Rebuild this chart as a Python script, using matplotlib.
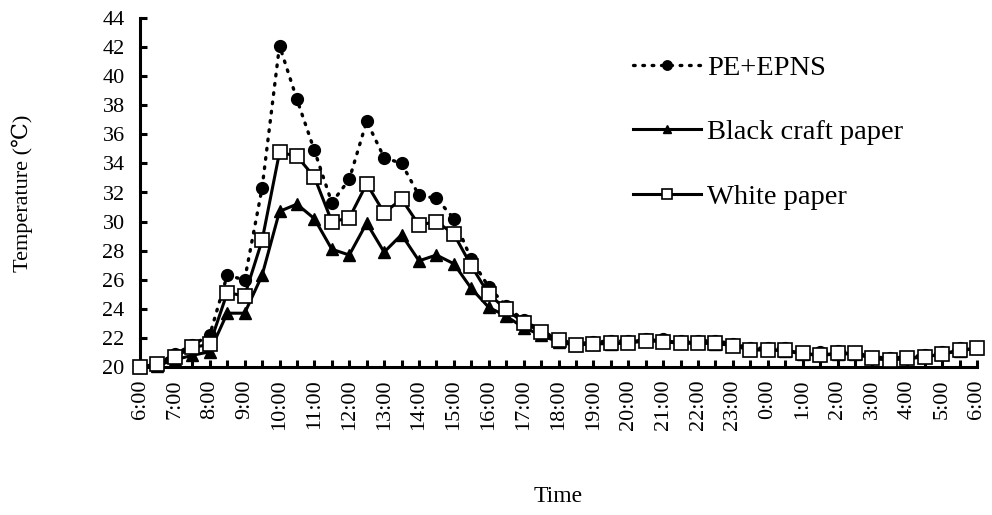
import matplotlib
matplotlib.use('Agg')
import matplotlib.pyplot as plt

plt.rcParams['font.family'] = ['Liberation Serif', 'DejaVu Serif']

# time axis: every 30 min from 6:00 to 6:00 next day
hours = ['6:00', '7:00', '8:00', '9:00', '10:00', '11:00', '12:00', '13:00',
         '14:00', '15:00', '16:00', '17:00', '18:00', '19:00', '20:00', '21:00',
         '22:00', '23:00', '0:00', '1:00', '2:00', '3:00', '4:00', '5:00', '6:00']

pe_epns = [20.0, 20.2, 20.9, 21.5, 22.2, 26.3, 26.0, 32.3, 42.1, 38.4,
           34.9, 31.3, 32.9, 36.9, 34.4, 34.0, 31.8, 31.6, 30.2, 27.4,
           25.5, 24.2, 23.2, 22.5, 21.9, 21.6, 21.7, 21.8, 21.8, 21.9,
           21.9, 21.8, 21.8, 21.8, 21.6, 21.3, 21.3, 21.3, 21.0, 21.0,
           21.1, 21.0, 20.7, 20.6, 20.7, 20.8, 21.0, 21.3, 21.4]

black_craft = [20.0, 20.1, 20.5, 20.8, 21.05, 23.7, 23.7, 26.3, 30.7, 31.2,
               30.2, 28.1, 27.7, 29.9, 27.9, 29.1, 27.3, 27.7, 27.1, 25.4,
               24.1, 23.5, 22.7, 22.2, 21.7, 21.5, 21.6, 21.6, 21.7, 21.9,
               21.8, 21.7, 21.7, 21.6, 21.5, 21.2, 21.2, 21.1, 20.9, 20.8,
               20.9, 20.9, 20.6, 20.5, 20.6, 20.7, 20.9, 21.1, 21.3]

white_paper = [20.0, 20.2, 20.7, 21.35, 21.55, 25.1, 24.9, 28.7, 34.76, 34.5,
               33.06, 30.0, 30.24, 32.6, 30.6, 31.55, 29.76, 30.0, 29.14, 26.96,
               25.0, 23.97, 23.05, 22.43, 21.86, 21.5, 21.6, 21.63, 21.63, 21.81,
               21.74, 21.63, 21.63, 21.63, 21.47, 21.17, 21.17, 21.17, 20.94, 20.83,
               20.94, 20.94, 20.6, 20.48, 20.6, 20.67, 20.9, 21.17, 21.29]

x = list(range(len(white_paper)))

fig = plt.figure(figsize=(9.92, 5.15), dpi=100)
ax = fig.add_axes([140 / 992, 1 - 367 / 515, (977 - 140) / 992, (367 - 18) / 515])

ax.plot(x, pe_epns, color='black', linestyle=(0, (0.5, 2.3)), linewidth=2.4,
        dash_capstyle='round', marker='o', markersize=8.5, clip_on=False,
        zorder=3, label='PE+EPNS')
ax.plot(x, black_craft, color='black', linewidth=2.2, marker='^',
        markersize=8, clip_on=False, zorder=4, label='Black craft paper')
ax.plot(x, white_paper, color='black', linewidth=2.2, marker='s',
        markersize=9.5, markerfacecolor='white', markeredgewidth=1.2,
        clip_on=False, zorder=5, label='White paper')

ax.set_xlim(0, 48)
ax.set_ylim(20, 44)
ax.set_yticks(range(20, 45, 2))

labels = []
for i in x:
    labels.append(hours[i // 2] if i % 2 == 0 else '')
ax.set_xticks(x)
ax.set_xticklabels(labels, rotation=90)

for side in ['top', 'right']:
    ax.spines[side].set_visible(False)
for side in ['left', 'bottom']:
    ax.spines[side].set_linewidth(2.2)

ax.tick_params(axis='both', direction='in', length=5, width=2.2, labelsize=16)
ax.tick_params(axis='y', pad=11)
ax.tick_params(axis='x', pad=9)

fig.text(22 / 992, 1 - 193 / 515, 'Temperature (\u2103)', rotation=90,
         ha='center', va='center', fontsize=16)
fig.text(558 / 992, 1 - 497 / 515, 'Time', ha='center', va='center',
         fontsize=17)

ax.legend(loc='upper left', bbox_to_anchor=(633 / 992, 1 - 55 / 515),
          bbox_transform=fig.transFigure, frameon=False, fontsize=20.5,
          handlelength=2.4, labelspacing=1.35, handletextpad=0.2,
          markerscale=0.8, borderpad=0, borderaxespad=0)

fig.savefig('out.png', dpi=100)
